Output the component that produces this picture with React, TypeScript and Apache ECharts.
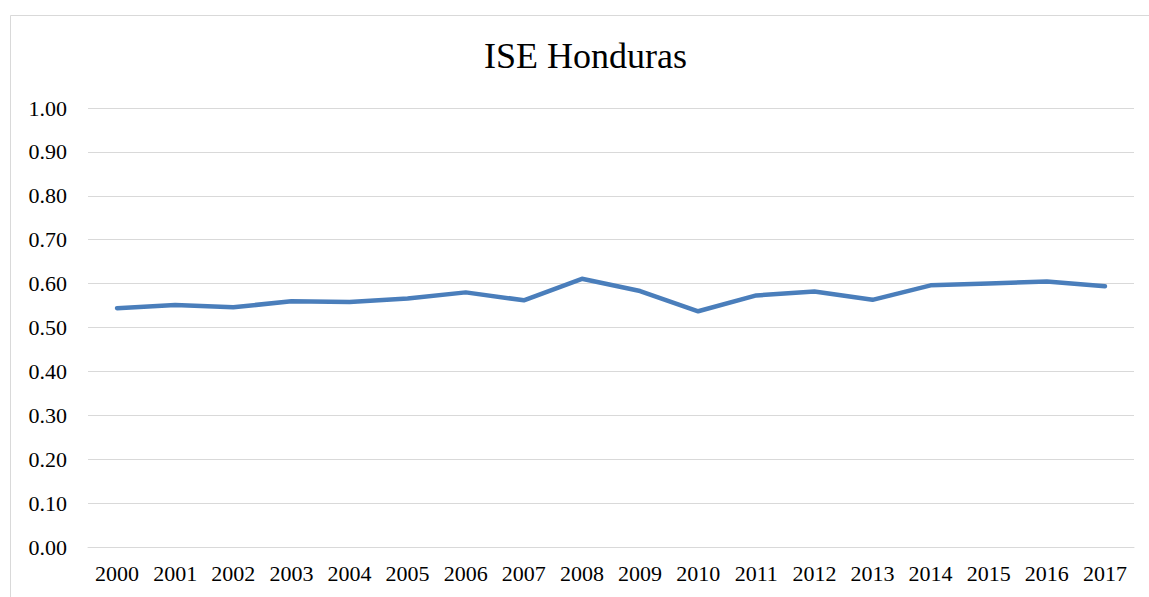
import React, { useEffect, useRef } from "react";
import * as echarts from "echarts";

const years = [
  "2000", "2001", "2002", "2003", "2004", "2005", "2006", "2007", "2008",
  "2009", "2010", "2011", "2012", "2013", "2014", "2015", "2016", "2017",
];

const iseValues = [
  0.544, 0.551, 0.546, 0.560, 0.558, 0.566, 0.580, 0.562, 0.611,
  0.583, 0.537, 0.573, 0.582, 0.563, 0.596, 0.600, 0.605, 0.594,
];

const chartTitle = "ISE Honduras";

const FONT = '"Liberation Serif", "Times New Roman", serif';

export default function App() {
  const ref = useRef<HTMLDivElement>(null);

  useEffect(() => {
    document.body.style.margin = "0";
    const chart = echarts.init(ref.current!, null, { renderer: "svg" });
    chart.setOption({
      animation: false,
      backgroundColor: "#ffffff",
      graphic: [
        {
          type: "rect",
          shape: { x: 10.5, y: 15.5, width: 1160, height: 600 },
          style: { fill: "none", stroke: "#d9d9d9", lineWidth: 1 },
          silent: true,
        },
        {
          type: "text",
          x: 585.5,
          y: 38,
          style: {
            text: chartTitle,
            fontFamily: FONT,
            fontSize: 36,
            fill: "#000000",
            align: "center",
            verticalAlign: "top",
          },
        },
      ],
      grid: { left: 88, right: 15, top: 108, bottom: 50, containLabel: false },
      xAxis: {
        type: "category",
        data: years,
        boundaryGap: true,
        axisLine: { show: true, lineStyle: { color: "#d9d9d9", width: 1 } },
        axisTick: { show: false },
        axisLabel: {
          fontFamily: FONT,
          fontSize: 22,
          color: "#000000",
          margin: 15,
          interval: 0,
        },
      },
      yAxis: {
        type: "value",
        min: 0,
        max: 1,
        interval: 0.1,
        axisLine: { show: false },
        axisTick: { show: false },
        splitLine: { lineStyle: { color: "#d9d9d9", width: 1 } },
        axisLabel: {
          fontFamily: FONT,
          fontSize: 22,
          color: "#000000",
          margin: 21,
          formatter: (v: number) => v.toFixed(2),
        },
      },
      series: [
        {
          type: "line",
          data: iseValues,
          symbol: "none",
          smooth: false,
          lineStyle: { color: "#4a7ebb", width: 4.5, cap: "round", join: "round" },
        },
      ],
    });
    return () => chart.dispose();
  }, []);

  return <div ref={ref} style={{ width: 1149, height: 597 }} />;
}
